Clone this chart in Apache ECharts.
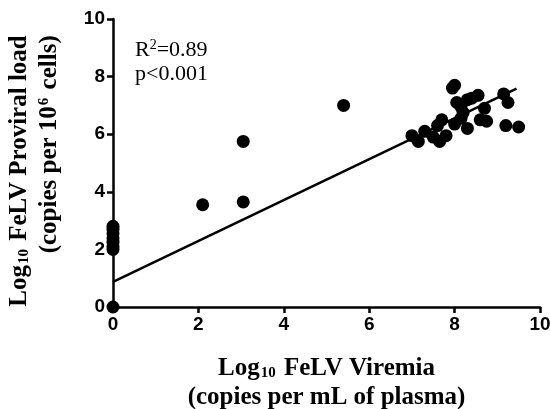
<!DOCTYPE html>
<html>
<head>
<meta charset="utf-8">
<script src="https://cdn.jsdelivr.net/npm/echarts@6/dist/echarts.min.js"></script>
<style>html,body{margin:0;padding:0;background:#fff}#c{width:550px;height:409px}</style>
</head>
<body>
<div id="c"></div>
<script>
var xTicks = [0, 2, 4, 6, 8, 10];
var yTicks = [0, 2, 4, 6, 8, 10];
var viremia = [0, 0, 0, 0, 0, 0, 0, 0,
  2.1, 3.05, 3.05, 5.4,
  7.0, 7.15, 7.3, 7.5, 7.6, 7.7, 7.65, 7.8, 8.0, 8.15, 8.3, 8.2, 8.05, 7.95, 8.0,
  8.3, 8.55, 8.7, 8.6, 8.75, 9.15, 9.25, 9.2, 9.5, 8.15, 8.4];
var proviral = [0, 2.0, 2.1, 2.25, 2.4, 2.55, 2.7, 2.8,
  3.55, 3.65, 5.75, 7.0,
  5.95, 5.75, 6.1, 5.9, 6.3, 6.5, 5.75, 5.95, 6.35, 6.55, 6.2, 6.75, 7.1, 7.6, 7.7,
  7.2, 7.35, 6.9, 6.5, 6.45, 7.4, 7.1, 6.3, 6.25, 6.95, 7.25];
var fitX = [0, 9.45];
var fitY = [0.87, 7.58];
var statsText = ['R', '2', '=0.89', 'p<0.001'];

var pts = viremia.map(function (v, i) { return [v, proviral[i]]; });
var fit = fitX.map(function (v, i) { return [v, fitY[i]]; });

var chart = echarts.init(document.getElementById('c'));
var titleFont = 'Liberation Serif';
var FS = 25;
var rich = {
  b: { fontFamily: titleFont, fontWeight: 'bold', fontSize: FS, color: '#000' },
  s: { fontFamily: titleFont, fontWeight: 'bold', fontSize: 15, color: '#000', padding: [9, 2, 0, 1] },
  rb: { fontFamily: titleFont, fontWeight: 'bold', fontSize: FS, color: '#000', align: 'right' },
  rp: { fontFamily: titleFont, fontWeight: 'bold', fontSize: 15, color: '#000', padding: [0, 2, 11, 1], align: 'right' }
};
var labelStyle = { color: '#000', fontFamily: 'Liberation Sans', fontWeight: 'bold', fontSize: 19, margin: 8 };
chart.setOption({
  animation: false,
  backgroundColor: '#fff',
  grid: { left: 113, right: 10, top: 19, bottom: 102, containLabel: false, outerBoundsMode: 'none' },
  xAxis: {
    type: 'value', min: 0, max: 10, interval: 2,
    axisLine: { show: true, onZero: false, lineStyle: { color: '#000', width: 2.5 } },
    axisTick: { show: true, length: 6, lineStyle: { color: '#000', width: 2.5 } },
    splitLine: { show: false },
    axisLabel: Object.assign({}, labelStyle, {
      formatter: function (v) { return xTicks.indexOf(v) >= 0 ? String(v) : ''; } }),
    name: '{b|Log}{s|10}{b| FeLV Viremia}\n{b|(copies per mL of plasma)}',
    nameLocation: 'middle', nameGap: 47,
    nameTextStyle: { rich: rich, lineHeight: 29, align: 'center', verticalAlign: 'top' }
  },
  yAxis: {
    type: 'value', min: 0, max: 10, interval: 2,
    axisLine: { show: true, onZero: false, lineStyle: { color: '#000', width: 2.5 } },
    axisTick: { show: true, length: 6, lineStyle: { color: '#000', width: 2.5 } },
    splitLine: { show: false },
    axisLabel: Object.assign({}, labelStyle, {
      formatter: function (v) { return yTicks.indexOf(v) >= 0 ? String(v) : ''; } }),
    name: '{b|Log}{s|10}{b| FeLV Proviral load}\n{rb|(copies per 10}{rp|6}{rb| cells)}',
    nameLocation: 'middle', nameGap: 48, nameRotate: 90,
    nameTextStyle: { rich: rich, lineHeight: 30, align: 'center', padding: [0, 16, 0, 0] }
  },
  graphic: [{
    type: 'text', left: 135, top: 38,
    style: {
      rich: {
        n: { fontFamily: titleFont, fontSize: 22, color: '#000' },
        u: { fontFamily: titleFont, fontSize: 14, color: '#000', padding: [0, 0, 10, 0] }
      },
      text: '{n|' + statsText[0] + '}{u|' + statsText[1] + '}{n|' + statsText[2] + '}\n{n|' + statsText[3] + '}',
      lineHeight: 24
    }
  }],
  series: [
    { type: 'line', data: fit, symbol: 'none', lineStyle: { color: '#000', width: 2.5 }, z: 2 },
    { type: 'scatter', data: pts, symbol: 'circle', symbolSize: 13, itemStyle: { color: '#000', opacity: 1 }, z: 3, clip: false }
  ]
});
</script>
</body>
</html>
